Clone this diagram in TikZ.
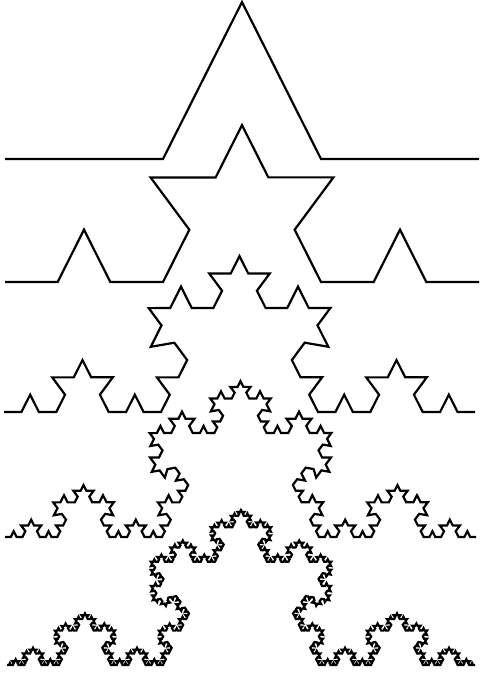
\documentclass[tikz,border=0pt]{standalone}
\usetikzlibrary{decorations}
\pgfdeclaredecoration{tall Koch}{draw}
{
  \state{draw}[width=\pgfdecoratedinputsegmentremainingdistance]
  {
    \pgfpathlineto{\pgfpoint{0.333333\pgfdecoratedinputsegmentremainingdistance}{0pt}}
    \pgfpathlineto{\pgfpoint{0.5\pgfdecoratedinputsegmentremainingdistance}{0.331\pgfdecoratedinputsegmentremainingdistance}}
    \pgfpathlineto{\pgfpoint{0.666667\pgfdecoratedinputsegmentremainingdistance}{0pt}}
    \pgfpathlineto{\pgfpoint{\pgfdecoratedinputsegmentremainingdistance}{0pt}}
  }
}
\tikzset{koch/.style={draw=black, line width=2.2pt, line join=miter, miter limit=3, decoration={tall Koch}}}
\begin{document}
\begin{tikzpicture}[x=1pt,y=1pt]
\useasboundingbox[fill=white] (0,0) rectangle (479,674);
\coordinate (a1) at (5,{674-159});
\coordinate (b1) at (479,{674-159});
\coordinate (a2) at (5,{674-282});
\coordinate (b2) at (479,{674-282});
\coordinate (a3) at (4,{674-412});
\coordinate (b3) at (475,{674-412});
\coordinate (a4) at (5,{674-537});
\coordinate (b4) at (476,{674-537});
\coordinate (a5) at (7,{674-665});
\coordinate (b5) at (475,{674-665});
\draw[koch] decorate{ (a1) -- (b1) };
\draw[koch] decorate{ decorate{ (a2) -- (b2) }};
\draw[koch] decorate{ decorate{ decorate{ (a3) -- (b3) }}};
\draw[koch] decorate{ decorate{ decorate{ decorate{ (a4) -- (b4) }}}};
\draw[koch] decorate{ decorate{ decorate{ decorate{ decorate{ (a5) -- (b5) }}}}};
\end{tikzpicture}
\end{document}
